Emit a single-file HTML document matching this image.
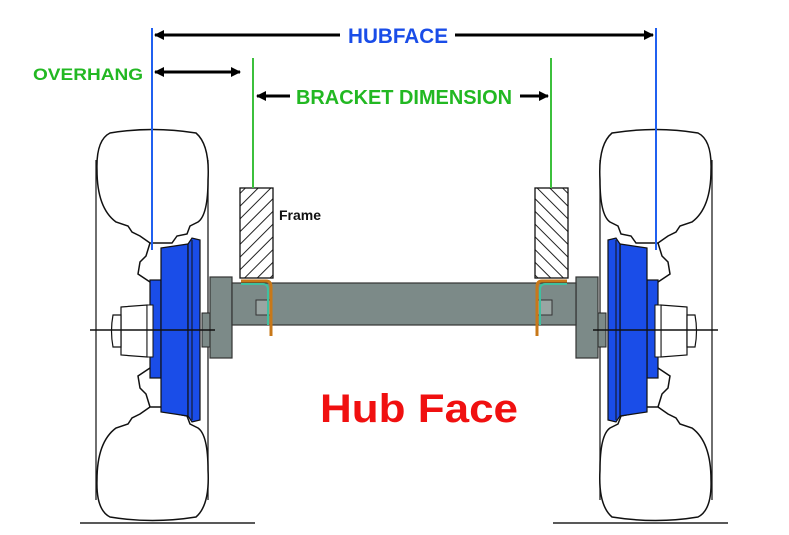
<!DOCTYPE html>
<html><head><meta charset="utf-8"><style>
html,body{margin:0;padding:0;background:#fff;}
svg{display:block;}
</style></head><body>
<svg width="789" height="535" viewBox="0 0 789 535" xmlns="http://www.w3.org/2000/svg">
<defs>
<pattern id="hatch" patternUnits="userSpaceOnUse" width="9" height="9" patternTransform="rotate(45)">
<rect width="9" height="9" fill="#fff"/><line x1="0" y1="0" x2="0" y2="9" stroke="#222" stroke-width="2"/>
</pattern>
<marker id="ah" markerWidth="10" markerHeight="10" refX="9" refY="5" orient="auto" markerUnits="userSpaceOnUse">
<path d="M0,0 L10,5 L0,10 Z" fill="#000"/></marker>
<g id="side">
 <!-- tire -->
 <line x1="96" y1="160" x2="96" y2="500" stroke="#222" stroke-width="1.3"/>
 <line x1="208" y1="160" x2="208" y2="500" stroke="#222" stroke-width="1.3"/>
 <path d="M110,133 Q152,126 196,133 Q210,145 208,180 Q208,215 198,222 L190,226 L187,234 L177,236 L172,243 L150,243 L140,236 L132,232 L128,226 L116,222 Q97,208 97,170 Q96,140 110,133 Z" fill="#fff" stroke="#111" stroke-width="1.5"/>
 <path d="M110,517 Q152,524 196,517 Q210,505 208,470 Q208,435 198,428 L190,424 L187,416 L177,414 L172,407 L150,407 L140,414 L132,418 L128,424 L116,428 Q97,442 97,480 Q96,510 110,517 Z" fill="#fff" stroke="#111" stroke-width="1.5"/>
 <path d="M150,243 L146,256 L140,262 L138,274 L150,282" fill="none" stroke="#111" stroke-width="1.5"/>
 <path d="M150,407 L146,394 L140,388 L138,376 L150,368" fill="none" stroke="#111" stroke-width="1.5"/>
 <line x1="80" y1="523" x2="255" y2="523" stroke="#222" stroke-width="1.5"/>
 <!-- hub -->
 <rect x="150" y="280" width="11" height="98" fill="#1a4de8" stroke="#111" stroke-width="1.2"/>
 <path d="M161,248 L188,244 L188,416 L161,412 Z" fill="#1a4de8" stroke="#111" stroke-width="1.2"/>
 <path d="M188,244 L192,238 L200,240 L200,420 L192,422 L188,416 Z" fill="#1a4de8" stroke="#111" stroke-width="1.2"/>
 <line x1="192" y1="240" x2="192" y2="420" stroke="#111" stroke-width="1"/>
 <!-- nut -->
 <path d="M121,307 L147,305 L147,357 L121,355 Z" fill="#fff" stroke="#111" stroke-width="1.2"/>
 <rect x="147" y="305" width="6" height="52" fill="#fff" stroke="#111" stroke-width="1"/>
 <path d="M121,315 L113,315 Q110,331 113,347 L121,347 Z" fill="#fff" stroke="#111" stroke-width="1.2"/>
 <rect x="202" y="313" width="8" height="34" fill="#7c8a88" stroke="#222" stroke-width="1"/>
 <!-- flange -->
 <rect x="210" y="277" width="22" height="81" fill="#7c8a88" stroke="#333" stroke-width="1.2"/>
 <!-- frame -->
 <rect x="240" y="188" width="33" height="90" fill="url(#hatch)" stroke="#111" stroke-width="1.3"/>
</g>
<g id="side2">
 <rect x="256" y="300" width="16" height="15" fill="#9aa5a3" stroke="#333" stroke-width="1"/>
 <path d="M241,281 L266,281 Q271,281 271,287 L271,336" fill="none" stroke="#c87819" stroke-width="3"/>
 <path d="M241,284 L263,284 Q268,284 268,290 L268,325" fill="none" stroke="#3fc0a0" stroke-width="2"/>
 <line x1="90" y1="330" x2="215" y2="330" stroke="#111" stroke-width="1.5"/>
</g>
</defs>
<use href="#side"/>
<use href="#side" transform="translate(808,0) scale(-1,1)"/>
<rect x="232" y="283" width="344" height="42" fill="#7c8a88" stroke="#333" stroke-width="1.2"/>
<use href="#side2"/>
<use href="#side2" transform="translate(808,0) scale(-1,1)"/>
<!-- dimension lines -->
<line x1="152" y1="28" x2="152" y2="250" stroke="#2060f0" stroke-width="2"/>
<line x1="656" y1="28" x2="656" y2="250" stroke="#2060f0" stroke-width="2"/>
<line x1="253" y1="58" x2="253" y2="188" stroke="#3cc03c" stroke-width="2"/>
<line x1="551" y1="58" x2="551" y2="188" stroke="#3cc03c" stroke-width="2"/>
<line x1="340" y1="35" x2="155" y2="35" stroke="#000" stroke-width="3" marker-end="url(#ah)"/>
<line x1="455" y1="35" x2="653" y2="35" stroke="#000" stroke-width="3" marker-end="url(#ah)"/>
<line x1="200" y1="72" x2="155" y2="72" stroke="#000" stroke-width="3" marker-end="url(#ah)"/>
<line x1="195" y1="72" x2="240" y2="72" stroke="#000" stroke-width="3" marker-end="url(#ah)"/>
<line x1="290" y1="96" x2="257" y2="96" stroke="#000" stroke-width="3" marker-end="url(#ah)"/>
<line x1="520" y1="96" x2="548" y2="96" stroke="#000" stroke-width="3" marker-end="url(#ah)"/>
<text x="398" y="43" text-anchor="middle" font-family="Liberation Sans, sans-serif" font-weight="bold" font-size="21" fill="#1a4de8" textLength="100" lengthAdjust="spacingAndGlyphs">HUBFACE</text>
<text x="33" y="80" font-family="Liberation Sans, sans-serif" font-weight="bold" font-size="17" fill="#22b822" textLength="110" lengthAdjust="spacingAndGlyphs">OVERHANG</text>
<text x="296" y="104" font-family="Liberation Sans, sans-serif" font-weight="bold" font-size="20" fill="#22b822" textLength="216" lengthAdjust="spacingAndGlyphs">BRACKET DIMENSION</text>
<text x="279" y="220" font-family="Liberation Sans, sans-serif" font-weight="bold" font-size="14" fill="#111">Frame</text>
<text x="320" y="422" font-family="Liberation Sans, sans-serif" font-weight="bold" font-size="40" fill="#f01010" textLength="198" lengthAdjust="spacingAndGlyphs">Hub Face</text>
</svg>
</body></html>
